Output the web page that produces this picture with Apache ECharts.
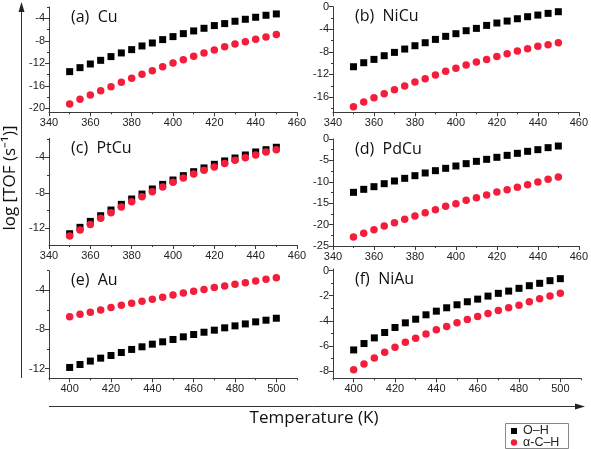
<!DOCTYPE html>
<html>
<head>
<meta charset="utf-8">
<script src="https://cdn.jsdelivr.net/npm/echarts@6/dist/echarts.min.js"></script>
<style>html,body{margin:0;padding:0;background:#fff}#c{width:591px;height:449px}</style>
</head>
<body>
<div id="c"></div>
<script>
// ---- data ----
const T1 = [350,355,360,365,370,375,380,385,390,395,400,405,410,415,420,425,430,435,440,445,450];
const T2 = [400,405,410,415,420,425,430,435,440,445,450,455,460,465,470,475,480,485,490,495,500];

const cuOH   = [-13.48,-12.77,-12.12,-11.47,-10.81,-10.16,-9.57,-8.92,-8.39,-7.79,-7.26,-6.73,-6.25,-5.78,-5.30,-4.95,-4.53,-4.18,-3.82,-3.47,-3.23];
const cuCH   = [-19.23,-18.40,-17.63,-16.86,-16.15,-15.38,-14.67,-13.96,-13.30,-12.59,-11.94,-11.35,-10.76,-10.16,-9.63,-9.04,-8.56,-8.15,-7.73,-7.32,-6.90];
const nicuOH = [-10.63,-9.92,-9.33,-8.68,-8.09,-7.50,-6.91,-6.38,-5.79,-5.25,-4.78,-4.25,-3.84,-3.31,-2.89,-2.54,-2.13,-1.77,-1.48,-1.18,-0.89];
const nicuCH = [-17.71,-16.88,-16.12,-15.41,-14.70,-14.05,-13.34,-12.75,-12.10,-11.45,-10.92,-10.33,-9.80,-9.33,-8.80,-8.32,-7.85,-7.44,-7.02,-6.73,-6.38];
const ptcuOH = [-12.61,-11.89,-11.22,-10.58,-9.94,-9.30,-8.70,-8.14,-7.57,-7.05,-6.56,-6.07,-5.62,-5.20,-4.79,-4.41,-4.08,-3.74,-3.40,-3.14,-2.87];
const ptcuCH = [-12.87,-12.20,-11.56,-10.88,-10.24,-9.60,-9.00,-8.44,-7.87,-7.35,-6.82,-6.33,-5.88,-5.47,-5.09,-4.71,-4.34,-4.04,-3.74,-3.40,-3.14];
const pdcuOH = [-12.46,-11.76,-11.14,-10.44,-9.81,-9.19,-8.57,-7.94,-7.40,-6.85,-6.31,-5.76,-5.22,-4.75,-4.28,-3.82,-3.35,-2.88,-2.49,-2.02,-1.64];
const pdcuCH = [-22.90,-22.04,-21.18,-20.33,-19.55,-18.77,-17.99,-17.21,-16.51,-15.73,-15.11,-14.33,-13.71,-13.08,-12.38,-11.84,-11.29,-10.67,-10.05,-9.42,-8.88];
const auOH   = [-11.89,-11.59,-11.24,-10.94,-10.67,-10.36,-10.05,-9.78,-9.51,-9.27,-9.03,-8.76,-8.52,-8.29,-8.08,-7.84,-7.64,-7.44,-7.23,-7.06,-6.86];
const auCH   = [-6.72,-6.45,-6.24,-6.01,-5.77,-5.53,-5.33,-5.12,-4.92,-4.71,-4.48,-4.27,-4.10,-3.93,-3.73,-3.56,-3.39,-3.22,-3.05,-2.88,-2.71];
const niauOH = [-6.32,-5.81,-5.36,-4.93,-4.53,-4.16,-3.87,-3.52,-3.23,-2.96,-2.72,-2.48,-2.27,-2.03,-1.81,-1.63,-1.41,-1.20,-1.01,-0.80,-0.64];
const niauCH = [-7.89,-7.44,-6.96,-6.51,-6.11,-5.71,-5.39,-5.04,-4.72,-4.45,-4.16,-3.89,-3.65,-3.41,-3.17,-2.96,-2.75,-2.48,-2.24,-2.03,-1.81];

const panelTitles = ['(a)  Cu','(b)  NiCu','(c)  PtCu','(d)  PdCu','(e)  Au','(f)  NiAu'];
const seriesNames = ['O\u2013H','\u03b1-C\u2013H'];

const xTicks1 = [340,360,380,400,420,440,460];
const xMinor1 = [350,370,390,410,430,450];
const xTicks2 = [400,420,440,460,480,500];
const xMinor2 = [390,410,430,450,470,490,510];

const yTicksA = [-20,-16,-12,-8,-4];   const yMinorA = [-18,-14,-10,-6,-2];
const yTicksB = [-16,-12,-8,-4,0];     const yMinorB = [-18,-14,-10,-6,-2];
const yTicksC = [-12,-8,-4];           const yMinorC = [-10,-6,-2];
const yTicksD = [-25,-20,-15,-10,-5,0];const yMinorD = [-22.5,-17.5,-12.5,-7.5,-2.5];
const yTicksE = [-12,-8,-4];           const yMinorE = [-10,-6,-2];
const yTicksF = [-8,-6,-4,-2,0];       const yMinorF = [-7,-5,-3,-1];

// ---- layout ----
const panels = [
  {g:{left:49,top:7,width:248,height:105.3},   x:[340,460], y:[-20.7,-2],  xt:xTicks1,xm:xMinor1, yt:yTicksA,ym:yMinorA, T:T1, oh:cuOH,   ch:cuCH},
  {g:{left:333,top:6.7,width:248,height:105.6},x:[340,460], y:[-18.7,0],   xt:xTicks1,xm:xMinor1, yt:yTicksB,ym:yMinorB, T:T1, oh:nicuOH, ch:nicuCH},
  {g:{left:49,top:138.3,width:248,height:106.7},x:[340,460],y:[-13.88,-1.86],xt:xTicks1,xm:xMinor1, yt:yTicksC,ym:yMinorC, T:T1, oh:ptcuOH, ch:ptcuCH},
  {g:{left:333,top:139,width:248,height:107},  x:[340,460], y:[-25,0],     xt:xTicks1,xm:xMinor1, yt:yTicksD,ym:yMinorD, T:T1, oh:pdcuOH, ch:pdcuCH},
  {g:{left:49,top:270.7,width:248,height:107.6},x:[390,510],y:[-13,-2],    xt:xTicks2,xm:xMinor2, yt:yTicksE,ym:yMinorE, T:T2, oh:auOH,   ch:auCH},
  {g:{left:333,top:269,width:248,height:109.3},x:[390,510], y:[-8.58,0.13],xt:xTicks2,xm:xMinor2, yt:yTicksF,ym:yMinorF, T:T2, oh:niauOH, ch:niauCH}
];

const axisColor = '#3a3a3a';
const labelFont = {fontFamily:'Liberation Sans', fontSize:11, color:'#222'};
const grid=[], xAxis=[], yAxis=[], series=[], graphic=[];
const red = '#f41e3c';

panels.forEach((p,i)=>{
  grid.push(Object.assign({containLabel:false}, p.g));
  xAxis.push({type:'value',gridIndex:i,position:'bottom',min:p.x[0],max:p.x[1],
    axisLine:{show:true,onZero:false,lineStyle:{color:axisColor,width:1}},
    axisTick:{show:true,length:4,customValues:p.xt,lineStyle:{color:axisColor}},
    axisLabel:Object.assign({customValues:p.xt,margin:5},labelFont),
    splitLine:{show:false}});
  xAxis.push({type:'value',gridIndex:i,position:'bottom',min:p.x[0],max:p.x[1],
    axisLine:{show:false,onZero:false},
    axisTick:{show:true,length:2,customValues:p.xm,lineStyle:{color:axisColor}},
    axisLabel:{show:false},splitLine:{show:false}});
  yAxis.push({type:'value',gridIndex:i,position:'left',min:p.y[0],max:p.y[1],
    axisLine:{show:true,onZero:false,lineStyle:{color:axisColor,width:1}},
    axisTick:{show:true,length:4,customValues:p.yt,lineStyle:{color:axisColor}},
    axisLabel:Object.assign({customValues:p.yt,margin:4},labelFont),
    splitLine:{show:false}});
  yAxis.push({type:'value',gridIndex:i,position:'left',min:p.y[0],max:p.y[1],
    axisLine:{show:false,onZero:false},
    axisTick:{show:true,length:2,customValues:p.ym,lineStyle:{color:axisColor}},
    axisLabel:{show:false},splitLine:{show:false}});
  const xi = i*2, yi = i*2;
  series.push({name:seriesNames[0],type:'scatter',xAxisIndex:xi,yAxisIndex:yi,
    symbol:'rect',symbolSize:7,itemStyle:{color:'#000',opacity:1},
    data:p.T.map((t,k)=>[t,p.oh[k]]),z:2});
  series.push({name:seriesNames[1],type:'scatter',xAxisIndex:xi,yAxisIndex:yi,
    symbol:'circle',symbolSize:7.5,itemStyle:{color:red,opacity:1},
    data:p.T.map((t,k)=>[t,p.ch[k]]),z:3});
  graphic.push({type:'text',left:p.g.left+22,top:p.g.top+2,
    style:{text:panelTitles[i],font:'16px "Open Sans"',fill:'#111'}});
});

// axis titles and arrows
graphic.push({type:'line',shape:{x1:21.5,y1:10,x2:21.5,y2:378},style:{stroke:'#333',lineWidth:1}});
graphic.push({type:'polygon',shape:{points:[[21.5,2],[18.5,12],[24.5,12]]},style:{fill:'#222'}});
graphic.push({type:'text',x:10,y:178,rotation:Math.PI/2,
  style:{text:'log [TOF (s\u207b\u00b9)]',font:'17px "Open Sans"',fill:'#111',align:'center',verticalAlign:'middle'}});
graphic.push({type:'line',shape:{x1:49,y1:406.5,x2:578,y2:406.5},style:{stroke:'#333',lineWidth:1}});
graphic.push({type:'polygon',shape:{points:[[585,406.5],[575,403.5],[575,409.5]]},style:{fill:'#222'}});
graphic.push({type:'text',x:314,y:418,
  style:{text:'Temperature (K)',font:'17px "Open Sans"',fill:'#111',align:'center',verticalAlign:'middle'}});

// legend box
graphic.push({type:'rect',shape:{x:505.5,y:423.5,width:63,height:25},style:{fill:'#fff',stroke:'#888',lineWidth:1}});
graphic.push({type:'rect',shape:{x:511,y:428,width:6,height:6},style:{fill:'#000'}});
graphic.push({type:'circle',shape:{cx:514,cy:442.5,r:3.2},style:{fill:red}});
graphic.push({type:'text',x:523,y:431,style:{text:seriesNames[0],font:'12.5px "Liberation Sans"',fill:'#222',verticalAlign:'middle'}});
graphic.push({type:'text',x:523,y:442.5,style:{text:seriesNames[1],font:'12.5px "Liberation Sans"',fill:'#222',verticalAlign:'middle'}});

const option = {
  animation:false,
  backgroundColor:'#fff',
  grid, xAxis, yAxis, series, graphic
};
echarts.init(document.getElementById('c'),null,{renderer:'canvas'}).setOption(option);
</script>
</body>
</html>
